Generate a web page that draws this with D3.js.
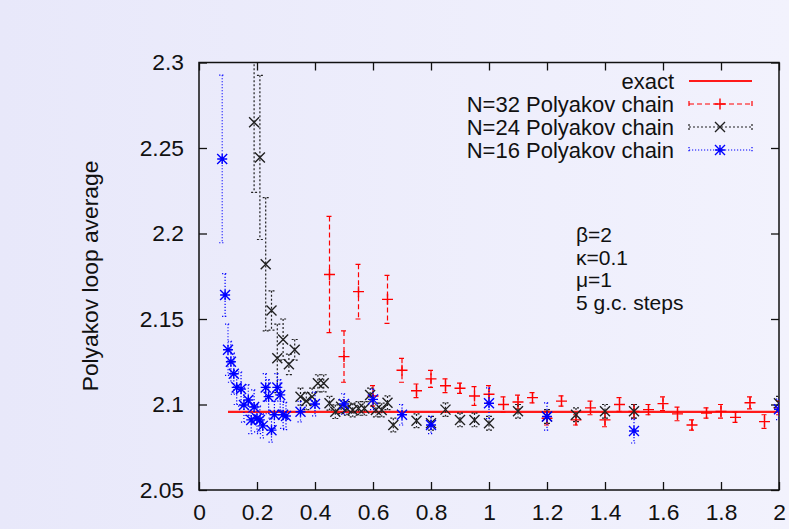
<!DOCTYPE html>
<html>
<head>
<meta charset="utf-8">
<script src="https://cdn.jsdelivr.net/npm/d3@7"></script>
<style>
  html, body { margin: 0; padding: 0; }
  body { width: 789px; height: 529px; overflow: hidden; background: #ececfb; }
  svg text { font-family: "Liberation Sans", Arial, Helvetica, sans-serif; fill: #111; }
</style>
</head>
<body>
<svg id="chart" width="789" height="529"></svg>
<script>
// ---------- data ----------
const xTickValues = [0, 0.2, 0.4, 0.6, 0.8, 1, 1.2, 1.4, 1.6, 1.8, 2];
const xTickLabels = ["0", "0.2", "0.4", "0.6", "0.8", "1", "1.2", "1.4", "1.6", "1.8", "2"];
const yTickValues = [2.05, 2.1, 2.15, 2.2, 2.25, 2.3];
const yTickLabels = ["2.05", "2.1", "2.15", "2.2", "2.25", "2.3"];

const exactX = [0.1, 2.0];
const exactValue = 2.0957;

const n32X = [0.45, 0.50, 0.55, 0.60, 0.65, 0.70, 0.75, 0.80, 0.85, 0.90, 0.95, 1.00, 1.05, 1.10, 1.15, 1.20,
              1.25, 1.30, 1.35, 1.40, 1.45, 1.50, 1.55, 1.60, 1.65, 1.70, 1.75, 1.80, 1.85, 1.90, 1.95, 2.00];
const n32Y = [2.176, 2.128, 2.166, 2.105, 2.1615, 2.120, 2.108, 2.115, 2.111, 2.1095, 2.105, 2.106, 2.100, 2.1015, 2.104, 2.092,
              2.102, 2.091, 2.098, 2.091, 2.100, 2.096, 2.097, 2.1005, 2.0945, 2.088, 2.095, 2.096, 2.0925, 2.101, 2.090, 2.098];
const n32Err = [0.034, 0.015, 0.016, 0.006, 0.014, 0.007, 0.004, 0.005, 0.004, 0.003, 0.0055, 0.005, 0.0045, 0.004, 0.003, 0.004,
                0.003, 0.003, 0.004, 0.004, 0.004, 0.004, 0.003, 0.004, 0.004, 0.003, 0.003, 0.004, 0.003, 0.0035, 0.004, 0.004];

const n24X = [0.19, 0.21, 0.23, 0.25, 0.27, 0.29, 0.31, 0.33, 0.35, 0.37, 0.39, 0.41, 0.43, 0.45, 0.47, 0.49, 0.51, 0.53, 0.55,
              0.57, 0.59, 0.61, 0.63, 0.65, 0.67, 0.75, 0.80, 0.85, 0.90, 0.95, 1.00, 1.10, 1.20, 1.30, 1.40, 1.50, 2.00];
const n24Y = [2.265, 2.2445, 2.182, 2.155, 2.127, 2.138, 2.1235, 2.132, 2.1046, 2.102, 2.1046, 2.1124, 2.1124, 2.1007, 2.0958, 2.0987, 2.0977, 2.0968, 2.0977,
              2.0977, 2.1056, 2.0968, 2.0968, 2.101, 2.088, 2.0905, 2.089, 2.097, 2.091, 2.091, 2.089, 2.096, 2.093, 2.094, 2.096, 2.096, 2.1007];
const n24Err = [0.041, 0.048, 0.039, 0.0115, 0.02, 0.012, 0.006, 0.006, 0.005, 0.005, 0.005, 0.005, 0.005, 0.004, 0.004, 0.004, 0.004, 0.004, 0.004,
                0.004, 0.004, 0.004, 0.004, 0.004, 0.004, 0.004, 0.004, 0.004, 0.004, 0.004, 0.004, 0.004, 0.004, 0.004, 0.004, 0.004, 0.004];

const n16X = [0.08, 0.09, 0.10, 0.11, 0.12, 0.13, 0.145, 0.155, 0.17, 0.18, 0.19, 0.20, 0.21, 0.22, 0.23, 0.24,
              0.25, 0.26, 0.27, 0.28, 0.29, 0.30, 0.35, 0.40, 0.50, 0.60, 0.70, 0.80, 1.00, 1.20, 1.50, 2.00];
const n16Y = [2.2436, 2.164, 2.132, 2.125, 2.118, 2.110, 2.109, 2.0997, 2.1026, 2.091, 2.0985, 2.092, 2.091, 2.0875, 2.110, 2.1046,
              2.085, 2.094, 2.110, 2.1056, 2.094, 2.0933, 2.0958, 2.1003, 2.1003, 2.103, 2.094, 2.088, 2.1007, 2.093, 2.0845, 2.0972];
const n16Err = [0.049, 0.0125, 0.015, 0.012, 0.012, 0.010, 0.010, 0.010, 0.009, 0.008, 0.010, 0.008, 0.008, 0.007, 0.008, 0.010,
                0.007, 0.008, 0.008, 0.009, 0.008, 0.008, 0.006, 0.007, 0.006, 0.006, 0.006, 0.005, 0.009, 0.008, 0.007, 0.006];

const legendLabels = ["exact", "N=32 Polyakov chain", "N=24 Polyakov chain", "N=16 Polyakov chain"];
const annotationLines = ["\u03B2=2", "\u03BA=0.1", "\u03BC=1", "5 g.c. steps"];
const yAxisTitle = "Polyakov loop average";

// ---------- layout ----------
const svg = d3.select("#chart");
const W = 789, H = 529;
const plot = { left: 199, right: 779, top: 62.5, bottom: 490 };

const defs = svg.append("defs");
const grad = defs.append("linearGradient").attr("id", "bg").attr("x1", 0).attr("x2", 1).attr("y1", 0).attr("y2", 0);
grad.append("stop").attr("offset", "0%").attr("stop-color", "#e8e8fa");
grad.append("stop").attr("offset", "100%").attr("stop-color", "#f2f2fd");
svg.append("rect").attr("width", W).attr("height", H).attr("fill", "url(#bg)");

defs.append("clipPath").attr("id", "clip").append("rect")
  .attr("x", plot.left).attr("y", plot.top)
  .attr("width", plot.right - plot.left).attr("height", plot.bottom - plot.top);

const x = d3.scaleLinear().domain([0, 2]).range([plot.left, plot.right]);
const y = d3.scaleLinear().domain([2.05, 2.3]).range([plot.bottom, plot.top]);

const FS = 22.8;     // axis tick labels and axis title
const FS_LEG = 22;   // legend entries
const FS_ANN = 21;   // parameter annotation

// axes (gnuplot style: inward ticks, mirrored)
const tickLen = 8;
const gx = svg.append("g").attr("transform", `translate(0,${plot.bottom})`)
  .call(d3.axisBottom(x).tickValues(xTickValues).tickSize(-tickLen).tickPadding(14)
    .tickFormat((d, i) => xTickLabels[i]));
const gxTop = svg.append("g").attr("transform", `translate(0,${plot.top})`)
  .call(d3.axisTop(x).tickValues(xTickValues).tickSize(-tickLen).tickFormat(""));
const gy = svg.append("g").attr("transform", `translate(${plot.left},0)`)
  .call(d3.axisLeft(y).tickValues(yTickValues).tickSize(-tickLen).tickPadding(15)
    .tickFormat((d, i) => yTickLabels[i]));
const gyR = svg.append("g").attr("transform", `translate(${plot.right},0)`)
  .call(d3.axisRight(y).tickValues(yTickValues).tickSize(-tickLen).tickFormat(""));

[gx, gxTop, gy, gyR].forEach(g => {
  g.select(".domain").remove();
  g.selectAll(".tick line").attr("stroke", "#111").attr("stroke-width", 1.3);
  g.selectAll(".tick text").attr("font-size", FS).attr("font-family", "Liberation Sans, Arial, sans-serif").attr("fill", "#111");
});

// frame
svg.append("rect").attr("x", plot.left).attr("y", plot.top)
  .attr("width", plot.right - plot.left).attr("height", plot.bottom - plot.top)
  .attr("fill", "none").attr("stroke", "#111").attr("stroke-width", 1.5);

// y-axis title
svg.append("text")
  .attr("transform", `translate(98,276) rotate(-90)`)
  .attr("text-anchor", "middle").attr("font-size", FS)
  .text(yAxisTitle);

// ---------- marks ----------
const dataLayer = svg.append("g").attr("clip-path", "url(#clip)");

// exact line
dataLayer.append("line")
  .attr("x1", x(exactX[0])).attr("x2", x(exactX[1]))
  .attr("y1", y(exactValue)).attr("y2", y(exactValue))
  .attr("stroke", "#ff1a1a").attr("stroke-width", 2.2);

function markerPath(type, cx, cy, s) {
  const p = d3.path();
  if (type === "plus" || type === "star") {
    p.moveTo(cx - s, cy); p.lineTo(cx + s, cy);
    p.moveTo(cx, cy - s); p.lineTo(cx, cy + s);
  }
  if (type === "cross" || type === "star") {
    p.moveTo(cx - s, cy - s); p.lineTo(cx + s, cy + s);
    p.moveTo(cx - s, cy + s); p.lineTo(cx + s, cy - s);
  }
  return p.toString();
}

const series = [
  { xs: n32X, ys: n32Y, es: n32Err, color: "#ff0000", dash: "5,3", marker: "plus", size: 5.5 },
  { xs: n24X, ys: n24Y, es: n24Err, color: "#202020", dash: "2,2", marker: "cross", size: 5 },
  { xs: n16X, ys: n16Y, es: n16Err, color: "#0000ff", dash: "1.2,1.8", marker: "star", size: 5 }
];

const cap = 3;
series.forEach(s => {
  const pts = s.xs.map((xv, i) => ({ x: xv, y: s.ys[i], e: s.es[i] }));
  const g = dataLayer.append("g");
  // error bars
  g.selectAll("path.err").data(pts).join("path")
    .attr("class", "err")
    .attr("d", d => {
      const p = d3.path();
      const cx = x(d.x), y1 = y(d.y + d.e), y2 = y(d.y - d.e);
      p.moveTo(cx, y1); p.lineTo(cx, y2);
      return p.toString();
    })
    .attr("stroke", s.color).attr("stroke-width", 1.2).attr("stroke-dasharray", s.dash).attr("fill", "none");
  g.selectAll("path.cap").data(pts).join("path")
    .attr("class", "cap")
    .attr("d", d => {
      const p = d3.path();
      const cx = x(d.x), y1 = y(d.y + d.e), y2 = y(d.y - d.e);
      p.moveTo(cx - cap, y1); p.lineTo(cx + cap, y1);
      p.moveTo(cx - cap, y2); p.lineTo(cx + cap, y2);
      return p.toString();
    })
    .attr("stroke", s.color).attr("stroke-width", 1.2).attr("stroke-dasharray", s.dash).attr("fill", "none");
  // markers
  g.selectAll("path.mk").data(pts).join("path")
    .attr("class", "mk")
    .attr("d", d => markerPath(s.marker, x(d.x), y(d.y), s.size))
    .attr("stroke", s.color).attr("stroke-width", 1.4).attr("fill", "none");
});

// ---------- legend ----------
const legendRows = [81, 104, 127, 150];
const lgTextX = 674, lgX1 = 689, lgX2 = 752, lgMid = 720;
legendLabels.forEach((lab, i) => {
  const cy = legendRows[i];
  svg.append("text").attr("x", lgTextX).attr("y", cy + 8)
    .attr("text-anchor", "end").attr("font-size", FS_LEG).text(lab);
  if (i === 0) {
    svg.append("line").attr("x1", lgX1).attr("x2", lgX2).attr("y1", cy).attr("y2", cy)
      .attr("stroke", "#ff1a1a").attr("stroke-width", 2.2);
  } else {
    const s = series[i - 1];
    svg.append("line").attr("x1", lgX1).attr("x2", lgX2).attr("y1", cy).attr("y2", cy)
      .attr("stroke", s.color).attr("stroke-width", 1.2).attr("stroke-dasharray", s.dash);
    [lgX1, lgX2].forEach(ex => {
      svg.append("line").attr("x1", ex).attr("x2", ex).attr("y1", cy - 3).attr("y2", cy + 3)
        .attr("stroke", s.color).attr("stroke-width", 1.2).attr("stroke-dasharray", s.dash);
    });
    svg.append("path").attr("d", markerPath(s.marker, lgMid, cy, s.size))
      .attr("stroke", s.color).attr("stroke-width", 1.4).attr("fill", "none");
  }
});

// ---------- annotation ----------
const annBase = [241.5, 264.5, 287, 310];
annotationLines.forEach((t, i) => {
  svg.append("text").attr("x", 576).attr("y", annBase[i]).attr("font-size", FS_ANN).text(t);
});
</script>
</body>
</html>
